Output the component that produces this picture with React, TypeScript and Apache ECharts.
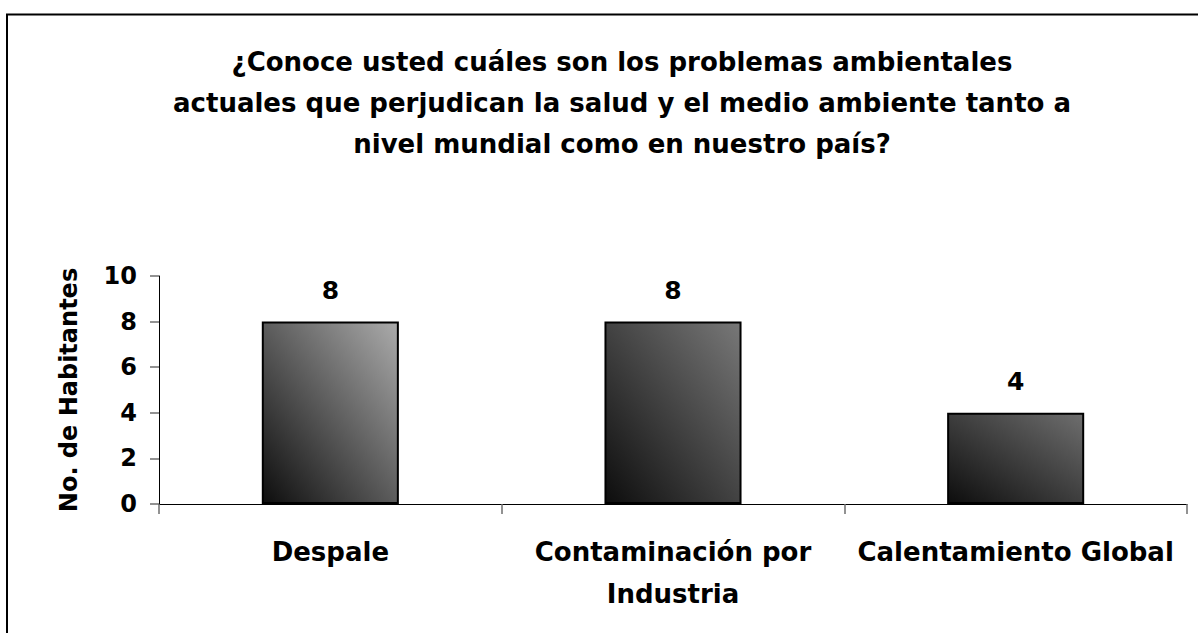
import React, { useEffect, useRef } from "react";
import * as echarts from "echarts";

const titleLines = [
  "¿Conoce usted cuáles son los problemas ambientales",
  "actuales que perjudican la salud y el medio ambiente tanto a",
  "nivel mundial como en nuestro país?",
];
const categories = ["Despale", "Contaminación por\nIndustria", "Calentamiento Global"];
const values = [8, 8, 4];
const barTopShades = ["#ababab", "#787878", "#6e6e6e"];
const yAxisName = "No. de Habitantes";
const yMin = 0;
const yMax = 10;
const yInterval = 2;

const FONT = "'DejaVu Sans', sans-serif";

export default function App() {
  const ref = useRef<HTMLDivElement>(null);

  useEffect(() => {
    if (!ref.current) return;
    const chart = echarts.init(ref.current, null, { renderer: "svg" });
    chart.setOption({
      animation: false,
      backgroundColor: "#ffffff",
      title: {
        text: titleLines.join("\n"),
        left: 622,
        top: 41,
        textAlign: "center",
        padding: 0,
        textStyle: {
          fontFamily: FONT,
          fontWeight: "bold",
          fontSize: 26,
          lineHeight: 41,
          color: "#000",
        },
      },
      graphic: [
        {
          type: "rect",
          shape: { x: 7, y: 14.5, width: 1400, height: 800 },
          style: { fill: "none", stroke: "#000", lineWidth: 2 },
          silent: true,
        },
      ],
      grid: { left: 159, right: 11, top: 276, bottom: 129, containLabel: false },
      xAxis: {
        type: "category",
        data: categories,
        boundaryGap: true,
        axisLine: { show: true, lineStyle: { color: "#000", width: 1 } },
        axisTick: { show: true, alignWithLabel: false, length: 10, lineStyle: { color: "#6e6e6e", width: 1.5 } },
        axisLabel: {
          interval: 0,
          margin: 27,
          fontFamily: FONT,
          fontWeight: "bold",
          fontSize: 26,
          lineHeight: 42,
          color: "#000",
        },
        splitLine: { show: false },
      },
      yAxis: {
        type: "value",
        min: yMin,
        max: yMax,
        interval: yInterval,
        name: yAxisName,
        nameLocation: "middle",
        nameRotate: 90,
        nameGap: 78,
        nameTextStyle: {
          fontFamily: FONT,
          fontWeight: "bold",
          fontSize: 24,
          color: "#000",
        },
        axisLine: { show: true, lineStyle: { color: "#000", width: 1 } },
        axisTick: { show: true, length: 9, lineStyle: { color: "#6e6e6e", width: 1.5 } },
        axisLabel: {
          margin: 22,
          fontFamily: FONT,
          fontWeight: "bold",
          fontSize: 24,
          color: "#000",
        },
        splitLine: { show: false },
      },
      series: [
        {
          type: "bar",
          barWidth: "40%",
          data: values.map((v, i) => ({
            value: v,
            itemStyle: {
              color: new echarts.graphic.LinearGradient(0, 1, 1, 0, [
                { offset: 0, color: "#0d0d0d" },
                { offset: 1, color: barTopShades[i] },
              ]),
              borderColor: "#000",
              borderWidth: 2,
            },
          })),
          label: {
            show: true,
            position: "top",
            distance: 19,
            fontFamily: FONT,
            fontWeight: "bold",
            fontSize: 25,
            color: "#000",
          },
        },
      ],
    });
    return () => chart.dispose();
  }, []);

  return (
    <div
      ref={ref}
      style={{ position: "absolute", left: 0, top: 0, width: 1198, height: 633 }}
    />
  );
}
